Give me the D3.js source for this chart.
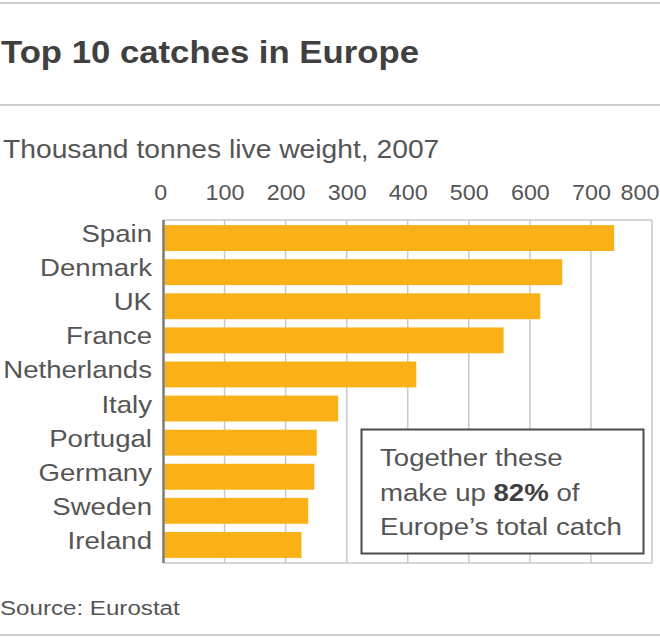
<!DOCTYPE html>
<html>
<head>
<meta charset="utf-8">
<script src="https://cdn.jsdelivr.net/npm/d3@7"></script>
<style>
  html, body { margin: 0; padding: 0; background: #fff; }
  svg { display: block; font-family: "Liberation Sans", Arial, Helvetica, sans-serif; }
</style>
</head>
<body>
<svg id="chart" width="660" height="638"></svg>
<script>
const countries = ["Spain", "Denmark", "UK", "France", "Netherlands", "Italy", "Portugal", "Germany", "Sweden", "Ireland"];
const catches = [738, 653, 617, 557, 414, 286, 251, 247, 237, 226];
const tickValues = [0, 100, 200, 300, 400, 500, 600, 700, 800];
const titleText = "Top 10 catches in Europe";
const subtitleText = "Thousand tonnes live weight, 2007";
const sourceText = "Source: Eurostat";
const noteLines = [["Together these"], ["make up ", "82%", " of"], ["Europe\u2019s total catch"]];

const svg = d3.select("#chart");
const W = 660;

function stext(parent, x, y, txt, size, sx, opts = {}) {
  return parent.append("text")
    .attr("transform", `translate(${x},${y}) scale(${sx},1)`)
    .attr("font-size", size)
    .attr("fill", opts.fill || "#555")
    .attr("font-weight", opts.weight || "normal")
    .attr("text-anchor", opts.anchor || "start")
    .text(txt);
}

// rules
[3, 105, 635].forEach(y => {
  svg.append("line").attr("x1", 0).attr("x2", W).attr("y1", y).attr("y2", y)
    .attr("stroke", "#cfcfcf").attr("stroke-width", 2);
});

stext(svg, 1, 63, titleText, 31, 1.12, { fill: "#404040", weight: "bold" });
stext(svg, 3, 158, subtitleText, 25, 1.13, { fill: "#555" });
stext(svg, 0, 615, sourceText, 21, 1.15, { fill: "#555" });

const x = d3.scaleLinear().domain([0, 800]).range([163.5, 652]);
const y = d3.scaleBand().domain(countries).range([220, 563]).paddingInner(0.24).paddingOuter(0.15);

const plot = svg.append("g");

// gridlines
plot.selectAll("line.grid").data(tickValues.filter(d => d > 0)).join("line")
  .attr("class", "grid")
  .attr("x1", d => x(d)).attr("x2", d => x(d))
  .attr("y1", 220).attr("y2", 563)
  .attr("stroke", "#c9c9c9").attr("stroke-width", 1.5);
[220, 563].forEach(yy => {
  plot.append("line").attr("x1", x(0)).attr("x2", x(800)).attr("y1", yy).attr("y2", yy)
    .attr("stroke", "#c9c9c9").attr("stroke-width", 1.5);
});

// bars
plot.selectAll("rect.bar").data(countries).join("rect")
  .attr("class", "bar")
  .attr("x", x(0) + 1)
  .attr("y", d => y(d))
  .attr("width", (d, i) => x(catches[i]) - x(0) - 1)
  .attr("height", y.bandwidth())
  .attr("fill", "#fab117");

// left axis line
plot.append("line").attr("x1", x(0)).attr("x2", x(0)).attr("y1", 220).attr("y2", 563)
  .attr("stroke", "#7a7a7a").attr("stroke-width", 2.5);

// top axis tick labels
const xAxis = d3.axisTop(x).tickValues(tickValues).tickSize(0).tickFormat(d3.format("d"));
const gx = svg.append("g").attr("transform", "translate(0,200)").call(xAxis);
gx.select(".domain").remove();
gx.selectAll("text")
  .attr("y", 0).attr("dy", 0)
  .attr("font-size", 22)
  .attr("font-family", "Liberation Sans, Arial, sans-serif")
  .attr("fill", "#555")
  .attr("text-anchor", d => d === 800 ? "end" : "middle")
  .attr("x", d => d === 800 ? (W - 1 - x(800)) / 1.06 : (d === 0 ? -3 : 0))
  .attr("transform", "scale(1.06,1)");

// left category labels
const yAxis = d3.axisLeft(y).tickSize(0).tickPadding(0);
const gy = svg.append("g").attr("transform", "translate(152,0)").call(yAxis);
gy.select(".domain").remove();
gy.selectAll("text")
  .attr("x", 0).attr("dy", 0).attr("y", 4)
  .attr("font-size", 24)
  .attr("font-family", "Liberation Sans, Arial, sans-serif")
  .attr("fill", "#555")
  .attr("text-anchor", "end")
  .attr("transform", "scale(1.15,1)");

// annotation box
const box = svg.append("g");
box.append("rect").attr("x", 361.5).attr("y", 429.5).attr("width", 282).attr("height", 124)
  .attr("fill", "#fff").attr("stroke", "#4a4a4a").attr("stroke-width", 2);
noteLines.forEach((parts, i) => {
  const t = box.append("text")
    .attr("transform", `translate(380,${466 + i * 34.5}) scale(1.15,1)`)
    .attr("font-size", 24).attr("fill", "#555");
  parts.forEach(p => {
    t.append("tspan").text(p).attr("font-weight", p === "82%" ? "bold" : "normal")
      .attr("fill", p === "82%" ? "#404040" : "#555");
  });
});
</script>
</body>
</html>
